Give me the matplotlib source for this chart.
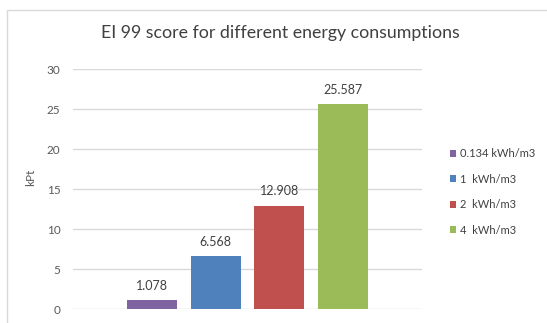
import matplotlib
matplotlib.use('Agg')
import matplotlib.pyplot as plt
from matplotlib.patches import Rectangle

plt.rcParams['font.family'] = ['Lato', 'DejaVu Sans']

# data
series = ['0.134 kWh/m3', '1  kWh/m3', '2  kWh/m3', '4  kWh/m3']
values = [1.078, 6.568, 12.908, 25.587]
colors = ['#8064A2', '#4F81BD', '#C0504D', '#9BBB59']
yticks = [0, 5, 10, 15, 20, 25, 30]

W, H = 547, 323
fig = plt.figure(figsize=(W / 100, H / 100), dpi=100)
ax = fig.add_axes([73 / W, 1 - 309 / H, 349 / W, 240 / H])

# outer chart border
fig.patches.append(Rectangle((7 / W, -0.1), 1.2, 1.1 - 10 / H, transform=fig.transFigure,
                             fill=False, edgecolor='#D9D9D9', linewidth=1.0))

bars = []
for i, (lab, v, c) in enumerate(zip(series, values, colors)):
    b = ax.bar(i, v, width=0.79, color=c, label=lab, zorder=3)
    bars.append(b)
    ax.annotate(f'{v:.3f}', (i, v), xytext=(0, 10.5), textcoords='offset points',
                ha='center', va='center', fontsize=9, color='#404040')

ax.set_xlim(-1.25, 4.25)
ax.set_ylim(0, 30)
ax.set_yticks(yticks)
ax.set_xticks([])
ax.grid(axis='y', color='#D9D9D9', linewidth=1.0, zorder=0)
for s in ax.spines.values():
    s.set_visible(False)
ax.tick_params(axis='y', length=0, pad=9, labelsize=8.5, labelcolor='#595959')
ax.set_ylabel('kPt', fontsize=8.5, color='#595959')
ax.yaxis.set_label_coords(-0.105, 0.55)

fig.text(280 / W, 1 - 33 / H, 'EI 99 score for different energy consumptions',
         ha='center', va='center', fontsize=12.8, color='#404040')

fig.legend(handles=[b[0] for b in bars], labels=series, loc='center left',
           bbox_to_anchor=(444 / W, 1 - 192 / H), frameon=False, fontsize=8,
           labelcolor='#404040', handlelength=0.6, handleheight=0.6,
           handletextpad=0.3, labelspacing=1.3, borderpad=0)

fig.savefig('out.png', dpi=100)
